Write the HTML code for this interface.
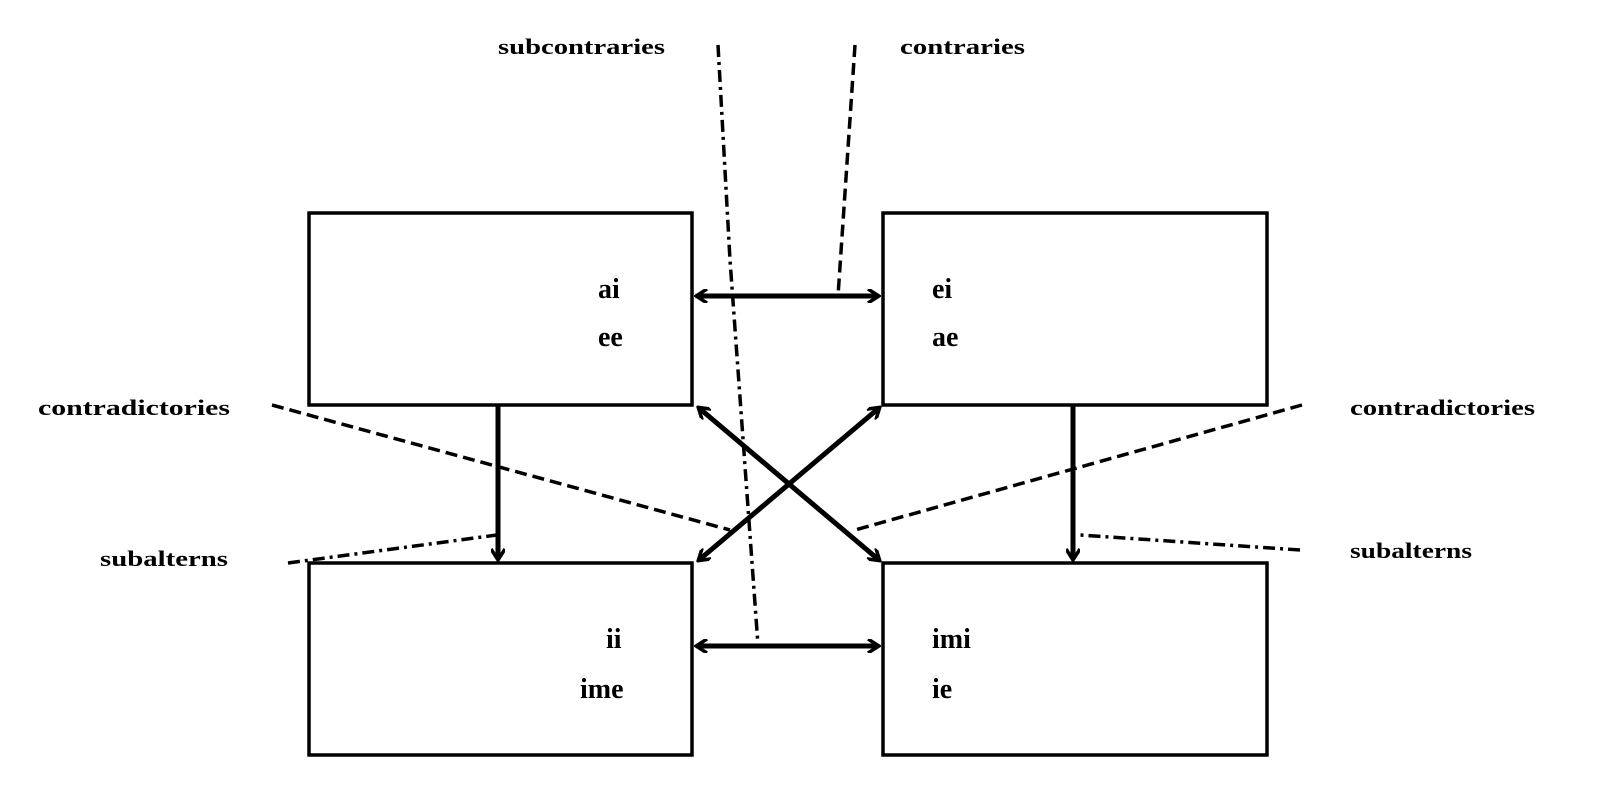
<!DOCTYPE html>
<html><head><meta charset="utf-8"><style>
html,body{margin:0;padding:0;background:#fff;width:1600px;height:809px;overflow:hidden}
text{font-family:"Liberation Serif",serif;font-weight:bold;fill:#000}
</style></head><body>
<svg width="1600" height="809" viewBox="0 0 1600 809" xmlns="http://www.w3.org/2000/svg">
<defs>
<marker id="a" markerWidth="14" markerHeight="14" refX="11" refY="7" orient="auto-start-reverse" markerUnits="userSpaceOnUse">
<path d="M1,0 L12,7 L1,14" fill="none" stroke="#000" stroke-width="3.5"/>
</marker>
</defs>
<g fill="none" stroke="#000" stroke-width="3.5">
<rect x="309" y="213" width="383" height="192"/>
<rect x="883" y="213" width="384" height="192"/>
<rect x="309" y="563" width="383" height="192"/>
<rect x="883" y="563" width="384" height="192"/>
</g>
<g stroke="#000" stroke-width="5" fill="none">
<line x1="697" y1="296" x2="878" y2="296" marker-start="url(#a)" marker-end="url(#a)"/>
<line x1="697" y1="646" x2="878" y2="646" marker-start="url(#a)" marker-end="url(#a)"/>
<line x1="699" y1="408" x2="879" y2="560" marker-start="url(#a)" marker-end="url(#a)"/>
<line x1="879" y1="408" x2="699" y2="560" marker-start="url(#a)" marker-end="url(#a)"/>
<line x1="498" y1="406" x2="498" y2="559" marker-end="url(#a)"/>
<line x1="1073" y1="406" x2="1073" y2="559" marker-end="url(#a)"/>
</g>
<g stroke="#000" stroke-width="3.5" fill="none" stroke-dasharray="12,6">
<polyline points="718,45 730,260 758,645" stroke-dasharray="12,5,3,5"/>
<line x1="855" y1="45" x2="838" y2="296"/>
<line x1="272" y1="405" x2="730" y2="530"/>
<line x1="1302" y1="405" x2="855" y2="530"/>
<line x1="288" y1="563" x2="497" y2="535" stroke-dasharray="12,5,3,5"/>
<line x1="1300" y1="550" x2="1080" y2="535" stroke-dasharray="12,5,3,5"/>
</g>
<g font-size="22">
<text x="498" y="54" textLength="167" lengthAdjust="spacingAndGlyphs">subcontraries</text>
<text x="900" y="54" textLength="125" lengthAdjust="spacingAndGlyphs">contraries</text>
<text x="38" y="415" textLength="192" lengthAdjust="spacingAndGlyphs">contradictories</text>
<text x="1350" y="415" textLength="185" lengthAdjust="spacingAndGlyphs">contradictories</text>
<text x="100" y="566" textLength="128" lengthAdjust="spacingAndGlyphs">subalterns</text>
<text x="1350" y="558" textLength="122" lengthAdjust="spacingAndGlyphs">subalterns</text>
</g>
<g font-size="28">
<text x="598" y="298">ai</text>
<text x="598" y="346">ee</text>
<text x="932" y="298">ei</text>
<text x="932" y="346">ae</text>
<text x="606" y="648">ii</text>
<text x="580" y="698">ime</text>
<text x="932" y="648">imi</text>
<text x="932" y="698">ie</text>
</g>
</svg>
</body></html>
